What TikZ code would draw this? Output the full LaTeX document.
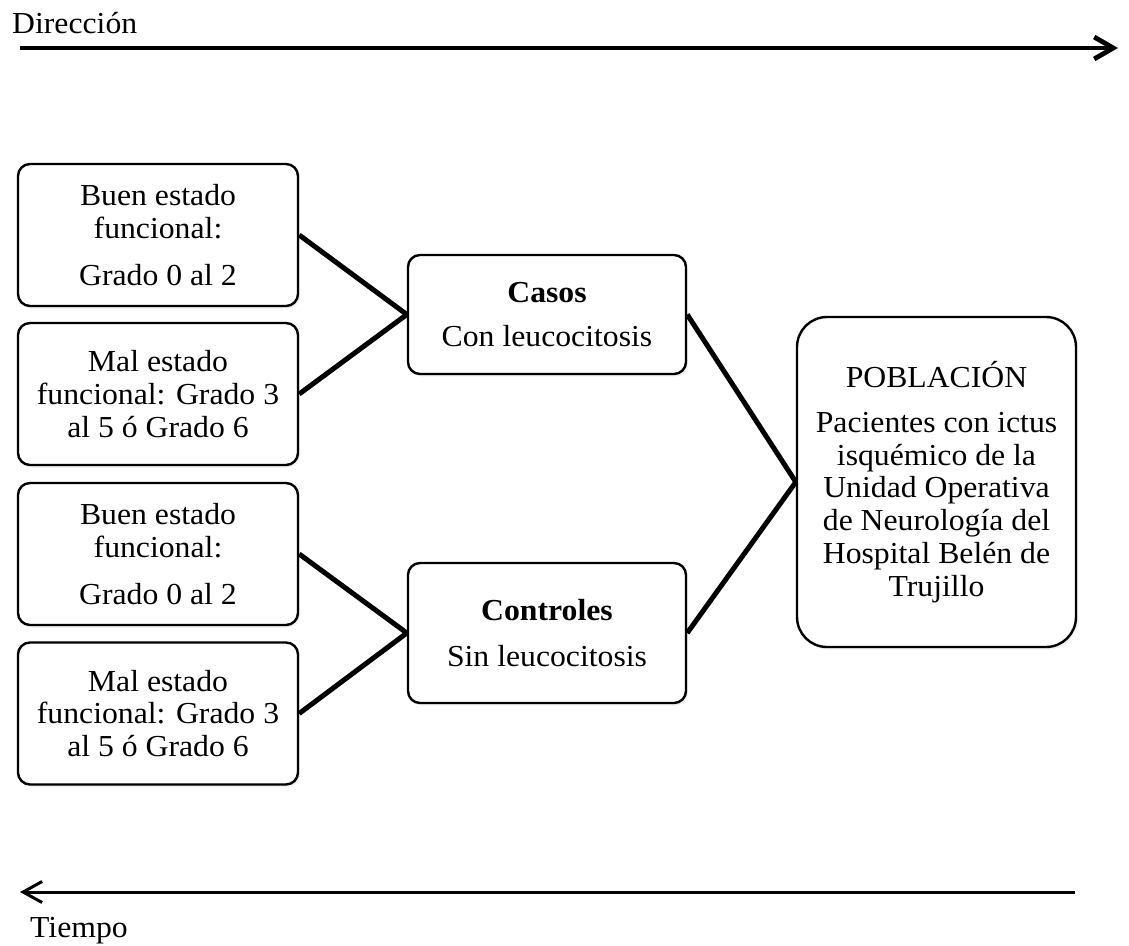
\documentclass[tikz,border=0pt]{standalone}
\usepackage{fontspec}
\setmainfont{Liberation Serif}[FakeStretch=1.04]
\usetikzlibrary{arrows.meta,shadows}
\begin{document}
\begin{tikzpicture}[x=1pt,y=-1pt,
  txt/.style={font=\fontsize{30.5}{32.8}\selectfont},
  box/.style={txt, draw, line width=2.4pt, rounded corners=12pt, align=center,
    fill=white, inner sep=0pt,
    drop shadow={opacity=0.12, shadow xshift=2pt, shadow yshift=-2.5pt}},
  leftbox/.style={box, minimum width=280pt, minimum height=142pt},
  midbox/.style={box, minimum width=278pt},
  bigbox/.style={box, rounded corners=30pt, minimum width=279pt, minimum height=330pt},
  conn/.style={line width=5pt}
]
\useasboundingbox (0,0) rectangle (1129,945);

% axis labels and arrows
\node[txt, anchor=base west, inner sep=0pt] (dir) at (12,33) {Dirección};
\node[txt, anchor=base west, inner sep=0pt] (tiempo) at (30,937) {Tiempo};
\coordinate (d1) at (20,48);
\coordinate (d2) at (1118,48);
\coordinate (t1) at (1075,892);
\coordinate (t2) at (20,892);
\draw[line width=4.8pt, -{Straight Barb[length=19pt, width=22pt]}] (d1) -- (d2);
\draw[line width=3pt, -{Straight Barb[length=19pt, width=21pt]}] (t1) -- (t2);

% left boxes
\node[leftbox] (b1) at (158,235) {Buen estado\\ funcional:\\[14pt] Grado 0 al 2};
\node[leftbox] (b2) at (158,394) {Mal estado\\ funcional: Grado 3\\ al 5 ó Grado 6};
\node[leftbox] (b3) at (158,554) {Buen estado\\ funcional:\\[14pt] Grado 0 al 2};
\node[leftbox] (b4) at (158,713.5) {Mal estado\\ funcional: Grado 3\\ al 5 ó Grado 6};

% middle boxes
\node[midbox, minimum height=119pt] (casos) at (547,314.5) {\textbf{Casos}\\[12pt] Con leucocitosis};
\node[midbox, minimum height=140pt] (controles) at (547,633) {\textbf{Controles}\\[14pt] Sin leucocitosis};

% population box
\node[bigbox] (pob) at (936.5,482) {POBLACIÓN\\[12pt] Pacientes con ictus\\ isquémico de la\\ Unidad Operativa\\ de Neurología del\\ Hospital Belén de\\ Trujillo};

% connectors
\draw[conn] (b1.east) -- (casos.west);
\draw[conn] (b2.east) -- (casos.west);
\draw[conn] (b3.east) -- (controles.west);
\draw[conn] (b4.east) -- (controles.west);
\draw[conn] (casos.east) -- (pob.west);
\draw[conn] (controles.east) -- (pob.west);
\end{tikzpicture}
\end{document}
